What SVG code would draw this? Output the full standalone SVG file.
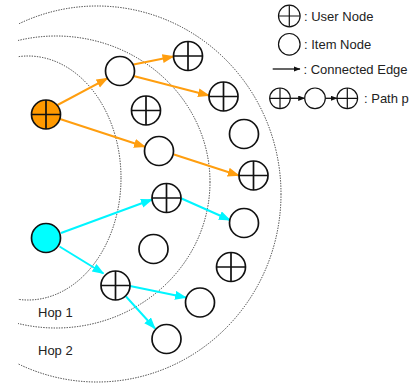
<svg xmlns="http://www.w3.org/2000/svg" width="417" height="387" viewBox="0 0 417 387">
<defs>
<style>
.arc{fill:none;stroke:#333;stroke-width:1;stroke-dasharray:1.3 1.3}
.nd{fill:#fff;stroke:#111;stroke-width:1.7}
.x{stroke:#111;stroke-width:1.7}
.lg{fill:#fff;stroke:#111;stroke-width:1.2}
.lx{stroke:#111;stroke-width:1.2}
.eo{stroke:#FF9E0F;stroke-width:2;fill:none;marker-end:url(#ao)}
.ec{stroke:#00F5FF;stroke-width:2;fill:none;marker-end:url(#ac)}
.el{stroke:#111;stroke-width:1.3;fill:none;marker-end:url(#ak)}
.t{font-family:"Liberation Sans",Arial,sans-serif;font-size:13px;fill:#222}
</style>
<marker id="ao" markerUnits="userSpaceOnUse" markerWidth="13" markerHeight="10" refX="11" refY="4.5" orient="auto"><path d="M0,0 L12,4.5 L0,9 Z" fill="#FF9E0F"/></marker>
<marker id="ac" markerUnits="userSpaceOnUse" markerWidth="13" markerHeight="10" refX="11" refY="4.5" orient="auto"><path d="M0,0 L12,4.5 L0,9 Z" fill="#00F5FF"/></marker>
<marker id="ak" markerUnits="userSpaceOnUse" markerWidth="8" markerHeight="6" refX="6.5" refY="2.75" orient="auto"><path d="M0,0 L7,2.75 L0,5.5 Z" fill="#111"/></marker>
<clipPath id="clip"><rect x="18" y="0" width="400" height="387"/></clipPath>
</defs>
<g id="hops" clip-path="url(#clip)">
<ellipse class="arc" cx="28" cy="178" rx="93" ry="122"/>
<ellipse class="arc" cx="56" cy="182" rx="154" ry="146"/>
<ellipse class="arc" cx="97" cy="194" rx="184" ry="188"/>
</g>
<text class="t" x="38" y="317">Hop 1</text>
<text class="t" x="38" y="354.5">Hop 2</text>
<g id="edges">
<line class="eo" x1="57.5" y1="105" x2="107.5" y2="78.3"/>
<line class="eo" x1="60" y1="119" x2="145" y2="146.8"/>
<line class="eo" x1="133.5" y1="64.5" x2="173.5" y2="56.5"/>
<line class="eo" x1="133.5" y1="76" x2="209" y2="95.5"/>
<line class="eo" x1="174" y1="154.5" x2="238.8" y2="175.5"/>
<line class="ec" x1="61" y1="233" x2="152" y2="199.5"/>
<line class="ec" x1="59.5" y1="246.5" x2="103.5" y2="273.5"/>
<line class="ec" x1="181.5" y1="198.5" x2="230" y2="220"/>
<line class="ec" x1="130" y1="286" x2="186" y2="297.5"/>
<line class="ec" x1="126" y1="296.5" x2="155" y2="328.5"/>
</g>
<g id="u_orange"><circle class="nd" cx="46" cy="114.5" r="14.5" fill="#FF9900" style="fill:#FF9900"/><path class="x" d="M31.5,114.5 H60.5 M46,100 V129"/></g>
<g id="i_a"><circle class="nd" cx="120" cy="71" r="14.5"/></g>
<g id="u_b"><circle class="nd" cx="188" cy="56" r="14.5"/><path class="x" d="M173.5,56 H202.5 M188,41.5 V70.5"/></g>
<g id="u_c"><circle class="nd" cx="146" cy="110.5" r="14.5"/><path class="x" d="M131.5,110.5 H160.5 M146,96 V125"/></g>
<g id="i_d"><circle class="nd" cx="159" cy="151" r="14.5"/></g>
<g id="u_e"><circle class="nd" cx="223.5" cy="96.5" r="14.5"/><path class="x" d="M209,96.5 H238 M223.5,82 V111"/></g>
<g id="i_f"><circle class="nd" cx="244" cy="134" r="14.5"/></g>
<g id="u_g"><circle class="nd" cx="253.5" cy="175.5" r="14.5"/><path class="x" d="M239,175.5 H268 M253.5,161 V190"/></g>
<g id="u_h"><circle class="nd" cx="166.5" cy="198" r="14.5"/><path class="x" d="M152,198 H181 M166.5,183.5 V212.5"/></g>
<g id="i_cyan"><circle class="nd" cx="46" cy="238" r="14.5" style="fill:#00FFFF"/></g>
<g id="i_i"><circle class="nd" cx="153.5" cy="249" r="14.5"/></g>
<g id="u_j"><circle class="nd" cx="115.5" cy="285.5" r="14.5"/><path class="x" d="M101,285.5 H130 M115.5,271 V300"/></g>
<g id="i_k"><circle class="nd" cx="200" cy="302.5" r="14.5"/></g>
<g id="i_l"><circle class="nd" cx="166.5" cy="339" r="14.5"/></g>
<g id="i_m"><circle class="nd" cx="244" cy="223" r="14.5"/></g>
<g id="u_n"><circle class="nd" cx="231" cy="267" r="14.5"/><path class="x" d="M216.5,267 H245.5 M231,252.5 V281.5"/></g>
<g id="legend">
<circle class="lg" cx="289.3" cy="16" r="10.8"/><path class="lx" d="M278.5,16 H300.1 M289.3,5.2 V26.8"/>
<text class="t" x="304" y="21">: User Node</text>
<circle class="lg" cx="289.3" cy="44.3" r="10.8"/>
<text class="t" x="304" y="49">: Item Node</text>
<line class="el" x1="272.7" y1="69" x2="300" y2="69"/>
<text class="t" x="303.5" y="73.5">: Connected Edge</text>
<circle class="lg" cx="280" cy="98.3" r="10.3"/><path class="lx" d="M269.7,98.3 H290.3 M280,88 V108.6"/>
<line class="el" x1="290.3" y1="98.3" x2="304.7" y2="98.3"/>
<circle class="lg" cx="315" cy="98.3" r="10.3"/>
<line class="el" x1="325.3" y1="98.3" x2="337" y2="98.3"/>
<circle class="lg" cx="347.3" cy="98.3" r="10.3"/><path class="lx" d="M337,98.3 H357.6 M347.3,88 V108.6"/>
<text class="t" x="364" y="102.5">: Path p</text>
</g>
</svg>
